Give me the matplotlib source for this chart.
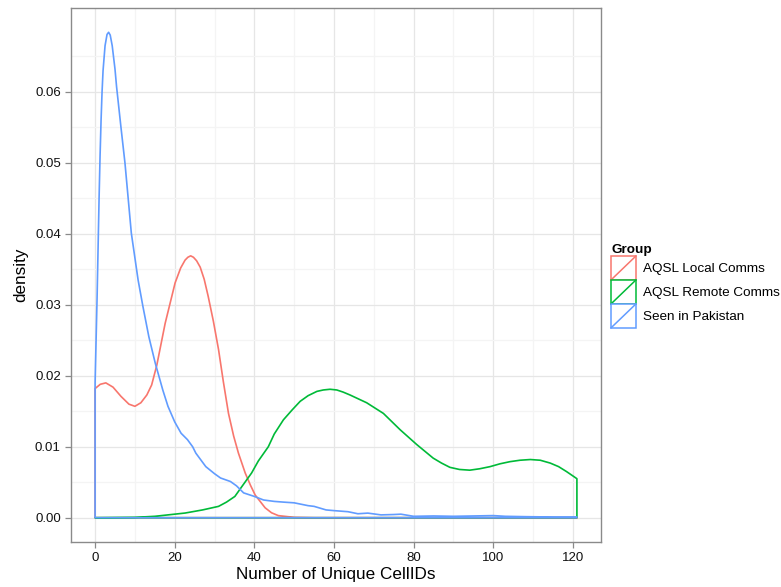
#!/usr/bin/env python3
import matplotlib
matplotlib.use('Agg')
import matplotlib.pyplot as plt
from matplotlib.patches import Rectangle
from matplotlib.lines import Line2D
from matplotlib.legend_handler import HandlerBase

plt.rcParams['font.family'] = ['Liberation Sans', 'DejaVu Sans']

# values (density estimates per group)
groups = ['AQSL Local Comms', 'AQSL Remote Comms', 'Seen in Pakistan']
colors = ['#F8766D', '#00BA38', '#619CFF']
x_ticks = [0, 20, 40, 60, 80, 100, 120]
y_ticks = [0.00, 0.01, 0.02, 0.03, 0.04, 0.05, 0.06]

local_x = [0, 1.3, 2.7, 4.5, 6.5, 8.5, 10, 11.5, 13, 14.2, 15.5, 17.6, 20.1, 21.5, 22.6,
           23.3, 24.0, 24.7, 25.5, 26.4, 27.4, 28.4, 29.7, 31.0, 32.2, 33.5, 34.8, 36.0,
           37.7, 39.0, 40.2, 42.7, 44.3, 46.0, 50, 55, 121]
local_y = [0.0182, 0.0188, 0.0190, 0.0184, 0.0171, 0.0160, 0.0157, 0.0162, 0.0173, 0.0187,
           0.0215, 0.0274, 0.0331, 0.0352, 0.0363, 0.0367, 0.0369, 0.0367, 0.0362, 0.0353,
           0.0336, 0.0312, 0.0277, 0.0237, 0.0192, 0.0147, 0.0115, 0.0091, 0.0063, 0.0046,
           0.0032, 0.0014, 0.0007, 0.0003, 0.00005, 0, 0]

remote_x = [0, 10, 15, 22.6, 27, 31, 33, 35.1, 37, 39.3, 41, 43.5, 45, 47.3, 49.5, 51.5,
            53.5, 55.7, 57.3, 59.0, 60.7, 62.3, 64.0, 68.2, 72.4, 76.6, 80.8, 84.9, 87.0,
            89.1, 91.5, 94.1, 96.6, 99.2, 101.7, 104.2, 106.7, 109.3, 111.8, 114.3, 116.4,
            118.4, 121]
remote_y = [0, 0.00005, 0.0002, 0.00066, 0.0011, 0.0016, 0.0022, 0.0030, 0.0045, 0.0063,
            0.0080, 0.0100, 0.0118, 0.0138, 0.0152, 0.0164, 0.0172, 0.0178, 0.0180, 0.0181,
            0.0180, 0.0177, 0.0173, 0.0162, 0.0147, 0.0124, 0.0103, 0.0084, 0.0077, 0.0071,
            0.0068, 0.0067, 0.0069, 0.0072, 0.0076, 0.0079, 0.0081, 0.0082, 0.0081, 0.0077,
            0.0072, 0.0065, 0.0055]

pak_x = [0, 0.25, 0.5, 0.75, 1.0, 1.25, 1.5, 1.75, 2.0, 2.5, 3.0, 3.4, 3.8, 4.3, 5.0, 5.4,
         6.5, 7.5, 9.1, 10.8, 12.0, 13.5, 15.1, 17.0, 18.3, 20, 21.6, 23.2, 24.5, 25.3,
         27.8, 30, 31.5, 34, 35.5, 37.3, 40, 42.3, 45, 47.3, 50, 53.5, 55, 58, 60, 63.5,
         66, 68.5, 71.8, 75, 76.8, 80, 85, 90, 95, 100, 103, 108, 115, 121]
pak_y = [0.019, 0.025, 0.031, 0.038, 0.045, 0.051, 0.056, 0.060, 0.0630, 0.0665, 0.0681,
         0.0684, 0.0680, 0.0665, 0.0632, 0.0607, 0.0550, 0.0500, 0.0401, 0.0335, 0.0298,
         0.0255, 0.0218, 0.0180, 0.0157, 0.0135, 0.0119, 0.0110, 0.0100, 0.0091, 0.0072,
         0.0062, 0.0056, 0.0051, 0.0045, 0.0035, 0.0030, 0.0025, 0.0023, 0.0022, 0.0021,
         0.0017, 0.0016, 0.0011, 0.0010, 0.00085, 0.00056, 0.00065, 0.0004, 0.00045,
         0.0005, 0.0002, 0.00025, 0.0002, 0.00025, 0.0003, 0.0002, 0.00015, 0.0001, 0.0001]

series = [(local_x, local_y), (remote_x, remote_y), (pak_x, pak_y)]


class KeyHandler(HandlerBase):
    # ggplot style key: coloured outline with a diagonal
    def create_artists(self, legend, orig_handle, xdescent, ydescent, width, height,
                       fontsize, trans):
        c = orig_handle.get_edgecolor()
        x0, y0 = -xdescent, -ydescent
        box = Rectangle((x0, y0), width, height, facecolor='white', edgecolor=c,
                        lw=1.1, transform=trans)
        diag = Line2D([x0, x0 + width], [y0, y0 + height], color=c, lw=1.1,
                      transform=trans)
        return [box, diag]


fig = plt.figure(figsize=(7.81, 5.87), dpi=100)
ax = fig.add_axes([71 / 781, 45 / 587, 530 / 781, 534 / 587])

handles = []
for (xs, ys), col, name in zip(series, colors, groups):
    ax.fill_between(xs, 0, ys, facecolor='none', edgecolor=col, lw=1.2)
    handles.append(Rectangle((0, 0), 1, 1, facecolor='none', edgecolor=col, label=name))

ax.set_xticks(x_ticks)
ax.set_xticks([t + 10 for t in x_ticks[:-1]], minor=True)
ax.set_yticks(y_ticks)
ax.set_yticks([t + 0.005 for t in y_ticks], minor=True)
ax.set_yticklabels(['%.2f' % t for t in y_ticks])
# ggplot style 5% expansion around the data range
ax.set_xlim(-6.05, 127.05)
ax.set_ylim(-0.00342, 0.07182)

ax.grid(which='major', color='#e6e6e6', lw=0.9)
ax.grid(which='minor', color='#f4f4f4', lw=0.9)
ax.set_axisbelow(True)
for s in ax.spines.values():
    s.set_color('#8a8a8a')
    s.set_linewidth(1.0)
ax.tick_params(which='major', length=4.3, width=0.9, color='#8a8a8a', labelsize=9.5,
               labelcolor='#111111', pad=3)
ax.tick_params(which='minor', length=0)

ax.set_xlabel('Number of Unique CellIDs', fontsize=12.3, labelpad=2)
ax.set_ylabel('density', fontsize=12.3, labelpad=5)

leg = fig.legend(handles=handles, handler_map={Rectangle: KeyHandler()},
                 loc='upper left', bbox_to_anchor=(611 / 781, 1 - 244 / 587),
                 frameon=False, fontsize=9.7, title='Group', alignment='left',
                 title_fontproperties={'weight': 'bold', 'size': 9.7},
                 borderpad=0, borderaxespad=0, labelspacing=0, handlelength=1.85,
                 handleheight=2.36, handletextpad=0.5)

fig.savefig('out.png', dpi=100, facecolor='white')
